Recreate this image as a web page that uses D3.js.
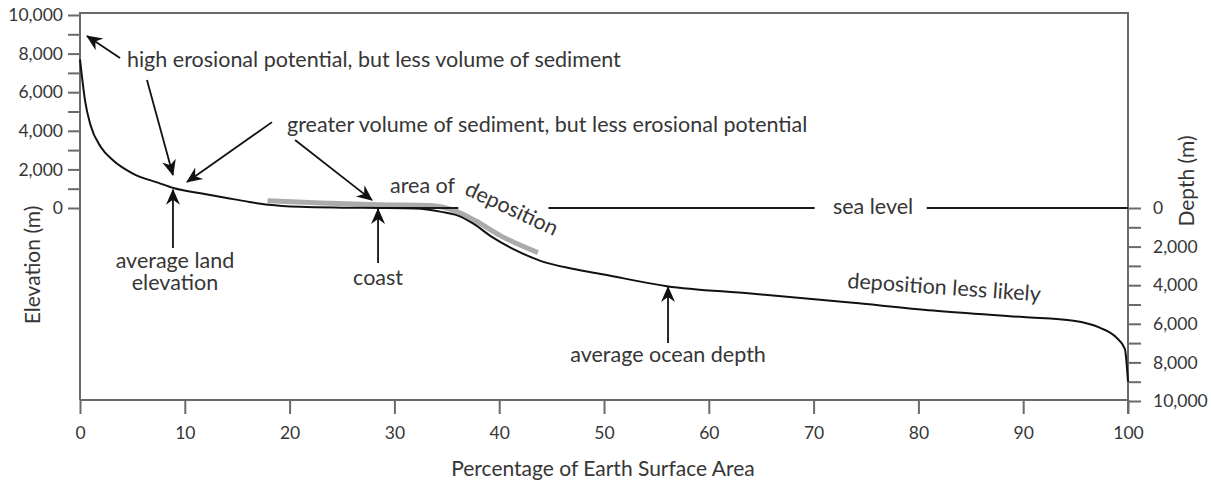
<!DOCTYPE html>
<html>
<head>
<meta charset="utf-8">
<script src="https://cdn.jsdelivr.net/npm/d3@7"></script>
<style>
body { margin: 0; background: #fff; }
svg text { font-family: Lato, "Open Sans", sans-serif; fill: #363636; }
</style>
</head>
<body>
<svg width="1211" height="485"></svg>
<script>
// hypsometric curve: % of earth surface vs elevation (m), negative = depth
var curvePct  = [0, 0.5, 1, 2, 3.2, 5, 7.5, 9, 11.5, 14, 16, 18, 21, 25, 28.6, 32, 34.5, 36, 37.5, 39.3, 42, 44, 47, 50, 56, 64, 73.5, 81.4, 90, 94.8, 97.3, 98.9, 99.7, 100];
var curveElev = [7700, 5500, 4300, 3150, 2450, 1800, 1300, 1020, 760, 520, 330, 170, 60, 15, 0, -30, -200, -380, -800, -1500, -2300, -2750, -3150, -3450, -4050, -4430, -4900, -5310, -5650, -5840, -6200, -6720, -7300, -9000];

// grey band = area of deposition
var depoPct  = [17.9, 23, 28.6, 33.4, 35.8, 37.7, 40.1, 43.7];
var depoElev = [380, 260, 170, 130, -150, -650, -1430, -2310];

// sea level line pieces (gaps for the text)
var seaStart = [28.6, 44.7, 80.8];
var seaEnd   = [36.1, 70.1, 100];

// arrows, tail -> tip, in [pct, elevation]
var arrowFrom = [[3.82, 7770], [6.39, 6630], [18.32, 4450], [20.52, 3520], [8.87, -2070], [28.44, -2850], [56.11, -6990]];
var arrowTo   = [[0.67, 8910], [8.87, 1710], [10.21, 1350], [27.86, 410], [8.87, 950], [28.44, -50], [56.11, -4090]];

// annotation texts
var noteText  = ["high erosional potential, but less volume of sediment", "greater volume of sediment, but less erosional potential", "area of", "deposition", "sea level", "average land", "elevation", "coast", "average ocean depth", "deposition less likely"];
var notePct   = [4.48, 19.75, 29.58, 36.6, 75.67, 9.06, 9.06, 28.44, 56.11, 73.19];
var noteElev  = [7300, 3940, 780, 720, -310, -3110, -4250, -3990, -7980, -4140];
var noteAnchor = ["start", "start", "start", "start", "middle", "middle", "middle", "middle", "middle", "start"];
var noteAngle = [0, 0, 0, 25, 0, 0, 0, 0, 0, 4];

var xTicks = [0, 10, 20, 30, 40, 50, 60, 70, 80, 90, 100];
var elevTicks = d3.range(0, 10001, 1000);
var depthTicks = d3.range(0, 10001, 1000);

var svg = d3.select("svg");
var plotLeft = 80, plotRight = 1128, plotTop = 13, plotBottom = 400;

var x = d3.scaleLinear().domain([0, 100]).range([plotLeft, plotRight]);
var y = d3.scaleLinear().domain([-10000, 10000]).range([401, 15]);
var yElev = d3.scaleLinear().domain([0, 10000]).range([y(0), y(10000)]);
var yDepth = d3.scaleLinear().domain([0, 10000]).range([y(0), y(-10000)]);

var axisColor = "#6a6a6a";

function label(d) { return d % 2000 === 0 ? d3.format(",")(d) : ""; }

var gl = svg.append("g")
  .attr("transform", "translate(" + plotLeft + ",0)")
  .call(d3.axisLeft(yElev).tickValues(elevTicks).tickSize(12).tickPadding(5).tickFormat(label));
var gr = svg.append("g")
  .attr("transform", "translate(" + plotRight + ",0)")
  .call(d3.axisRight(yDepth).tickValues(depthTicks).tickSize(13).tickPadding(12).tickFormat(label));
var gb = svg.append("g")
  .attr("transform", "translate(0," + plotBottom + ")")
  .call(d3.axisBottom(x).tickValues(xTicks).tickSize(14).tickPadding(13));

[gl, gr, gb].forEach(function(g) {
  g.select(".domain").remove();
  g.selectAll("line").attr("stroke", axisColor).attr("stroke-width", 2);
  g.selectAll("text").style("font-size", "17.5px").style("font-family", "Lato, sans-serif").attr("fill", "#363636");
});

// frame
svg.append("path")
  .attr("d", "M" + plotLeft + "," + plotBottom + "V" + plotTop + "H" + plotRight + "V" + (plotBottom + 14) + "M" + plotLeft + "," + plotBottom + "H" + plotRight)
  .attr("fill", "none")
  .attr("stroke", axisColor)
  .attr("stroke-width", 2);

// axis titles
svg.append("text")
  .attr("transform", "translate(40,265) rotate(-90)")
  .attr("text-anchor", "middle")
  .style("font-size", "21px")
  .text("Elevation (m)");
svg.append("text")
  .attr("transform", "translate(1194,181) rotate(-90)")
  .attr("text-anchor", "middle")
  .style("font-size", "21px")
  .text("Depth (m)");
svg.append("text")
  .attr("x", 603)
  .attr("y", 476)
  .attr("text-anchor", "middle")
  .style("font-size", "21px")
  .text("Percentage of Earth Surface Area");

var line = d3.line()
  .x(function(d) { return x(d[0]); })
  .y(function(d) { return y(d[1]); })
  .curve(d3.curveMonotoneX);

// deposition band
svg.append("path")
  .datum(d3.zip(depoPct, depoElev))
  .attr("fill", "none")
  .attr("stroke", "#ababab")
  .attr("stroke-width", 5)
  .attr("d", line);

// sea level
svg.selectAll(".sea")
  .data(d3.zip(seaStart, seaEnd))
  .enter().append("line")
  .attr("x1", function(d) { return x(d[0]); })
  .attr("x2", function(d) { return x(d[1]); })
  .attr("y1", y(0))
  .attr("y2", y(0))
  .attr("stroke", "#1a1a1a")
  .attr("stroke-width", 1.8);

// hypsometric curve
svg.append("path")
  .datum(d3.zip(curvePct, curveElev))
  .attr("fill", "none")
  .attr("stroke", "#111")
  .attr("stroke-width", 2)
  .attr("stroke-linejoin", "round")
  .attr("d", line);

// arrows
svg.append("defs").append("marker")
  .attr("id", "head")
  .attr("viewBox", "-17 -9 19 18")
  .attr("refX", 0)
  .attr("refY", 0)
  .attr("markerWidth", 19)
  .attr("markerHeight", 18)
  .attr("markerUnits", "userSpaceOnUse")
  .attr("orient", "auto")
  .append("path")
  .attr("d", "M1,0 L-15,-7 L-10,0 L-15,7 Z")
  .attr("fill", "#111");

svg.selectAll(".arrow")
  .data(d3.zip(arrowFrom, arrowTo))
  .enter().append("line")
  .attr("x1", function(d) { return x(d[0][0]); })
  .attr("y1", function(d) { return y(d[0][1]); })
  .attr("x2", function(d) { return x(d[1][0]); })
  .attr("y2", function(d) { return y(d[1][1]); })
  .attr("stroke", "#111")
  .attr("stroke-width", 1.8)
  .attr("marker-end", "url(#head)");

// notes
svg.selectAll(".note")
  .data(d3.range(noteText.length))
  .enter().append("text")
  .attr("transform", function(i) {
    return "translate(" + x(notePct[i]) + "," + y(noteElev[i]) + ") rotate(" + noteAngle[i] + ")";
  })
  .attr("text-anchor", function(i) { return noteAnchor[i]; })
  .style("font-size", "21.5px")
  .text(function(i) { return noteText[i]; });
</script>
</body>
</html>
